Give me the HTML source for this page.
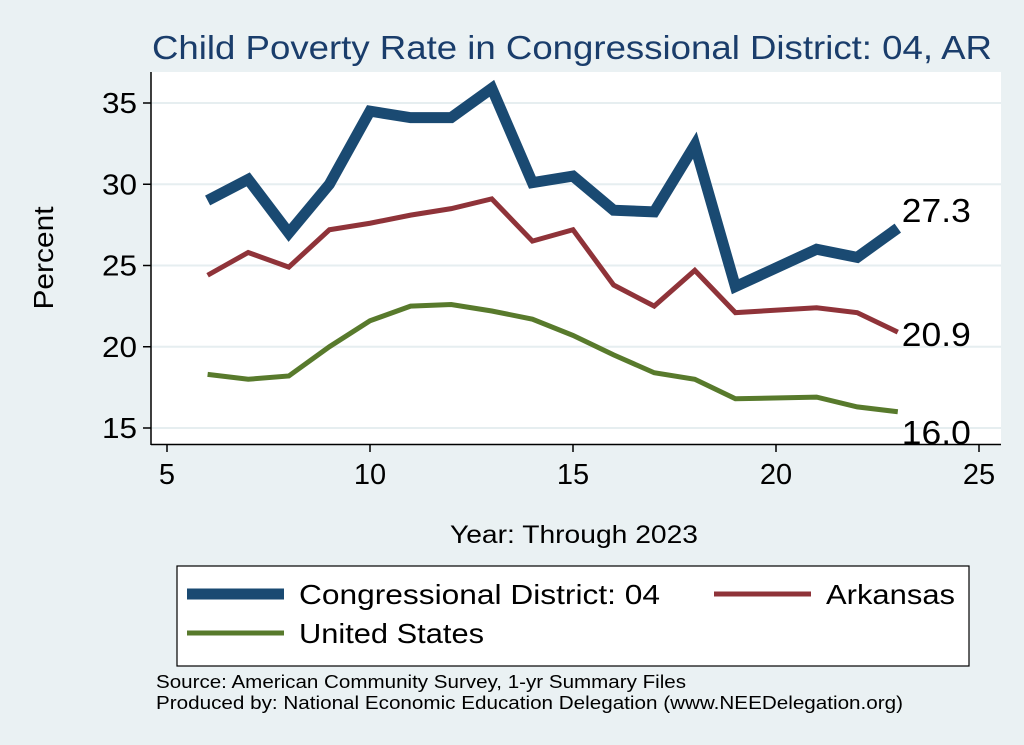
<!DOCTYPE html>
<html><head><meta charset="utf-8"><style>
body{margin:0;background:#eaf1f3;}
svg{display:block;font-family:"Liberation Sans",Arial,sans-serif;}
</style></head><body>
<svg width="1024" height="745">
<rect x="0" y="0" width="1024" height="745" fill="#eaf1f3"/>
<text x="152" y="59" font-size="33" fill="#1a3d6b" textLength="840" lengthAdjust="spacingAndGlyphs">Child Poverty Rate in Congressional District:  04, AR</text>
<rect x="151" y="72" width="850" height="372" fill="#fff"/>
<g id="grid"></g>
<line x1="151" y1="72" x2="151" y2="445" stroke="#000" stroke-width="1.5"/>
<line x1="151" y1="444.5" x2="1001" y2="444.5" stroke="#000" stroke-width="1.5"/>
<g id="series"></g>
<g id="axes"></g>
<text x="53" y="258" font-size="28" text-anchor="middle" textLength="103" lengthAdjust="spacingAndGlyphs" transform="rotate(-90 53 258)">Percent</text>
<text x="450" y="543" font-size="25" textLength="248" lengthAdjust="spacingAndGlyphs">Year: Through 2023</text>
<g>
<rect x="177" y="566" width="792" height="100" fill="#fff" stroke="#000" stroke-width="1.2"/>
<line x1="187" y1="594" x2="284" y2="594" stroke="#1a4a72" stroke-width="11"/>
<text x="299" y="604" font-size="28" textLength="361" lengthAdjust="spacingAndGlyphs">Congressional District:  04</text>
<line x1="714" y1="594" x2="811" y2="594" stroke="#8f3339" stroke-width="5"/>
<text x="826" y="604" font-size="28" textLength="129" lengthAdjust="spacingAndGlyphs">Arkansas</text>
<line x1="187" y1="633" x2="284" y2="633" stroke="#587a2c" stroke-width="5"/>
<text x="299" y="643" font-size="28" textLength="185" lengthAdjust="spacingAndGlyphs">United States</text>
</g>
<text x="156" y="688" font-size="18" textLength="530" lengthAdjust="spacingAndGlyphs">Source: American Community Survey, 1-yr Summary Files</text>
<text x="156" y="709" font-size="18" textLength="747" lengthAdjust="spacingAndGlyphs">Produced by: National Economic Education Delegation (www.NEEDelegation.org)</text>
</svg>
<script>
const years=[6,7,8,9,10,11,12,13,14,15,16,17,18,19,21,22,23];
const district=[29.0,30.3,27.0,30.0,34.5,34.1,34.1,35.9,30.1,30.5,28.4,28.3,32.4,23.7,26.0,25.5,27.3];
const arkansas=[24.4,25.8,24.9,27.2,27.6,28.1,28.5,29.1,26.5,27.2,23.8,22.5,24.7,22.1,22.4,22.1,20.9];
const usa=[18.3,18.0,18.2,20.0,21.6,22.5,22.6,22.2,21.7,20.7,19.5,18.4,18.0,16.8,16.9,16.3,16.0];
const xTicks=[5,10,15,20,25];
const yTicks=[15,20,25,30,35];
const NS="http://www.w3.org/2000/svg";
function sx(v){return 167+(v-5)*40.6;}
function sy(v){return 428-(v-15)*16.25;}
function mk(tag,attrs,parent){const e=document.createElementNS(NS,tag);for(const k in attrs)e.setAttribute(k,attrs[k]);parent.appendChild(e);return e;}
const grid=document.getElementById('grid'),axes=document.getElementById('axes'),ser=document.getElementById('series');
yTicks.forEach(t=>{
 const g=mk('line',{x1:151,x2:1001,y1:sy(t),y2:sy(t),stroke:'#e6eef0','stroke-width':2},grid);
 
 
 const tk=mk('line',{x1:143,x2:151,y1:sy(t),y2:sy(t),stroke:'#000','stroke-width':1.5},axes);
 
 
 const lb=mk('text',{x:137,y:sy(t)+10,'font-size':29,'text-anchor':'end',textLength:35,lengthAdjust:'spacingAndGlyphs'},axes);
 lb.textContent=t;
 
 
});
xTicks.forEach(t=>{
 const tk=mk('line',{x1:sx(t),x2:sx(t),y1:444,y2:452,stroke:'#000','stroke-width':1.5},axes);
 
 
 const lb=mk('text',{x:sx(t),y:484,'font-size':29,'text-anchor':'middle'},axes);
 lb.textContent=t;
 
 
});
function line(vals,color,w,name,dy){
 const p=mk('polyline',{points:years.map((y,i)=>sx(y)+','+sy(vals[i])).join(' '),fill:'none',stroke:color,'stroke-width':w,'stroke-linejoin':'miter'},ser);
 
 
 const last=vals[vals.length-1];
 const lb=mk('text',{x:sx(years[years.length-1])+4,y:sy(last)+dy,'font-size':33,textLength:69,lengthAdjust:'spacingAndGlyphs'},ser);
 lb.textContent=last.toFixed(1);
 
 
}
line(usa,'#587a2c',5,'us',32);
line(arkansas,'#8f3339',5,'arkansas',14);
line(district,'#1a4a72',11,'district',-6);
</script>
</body></html>
